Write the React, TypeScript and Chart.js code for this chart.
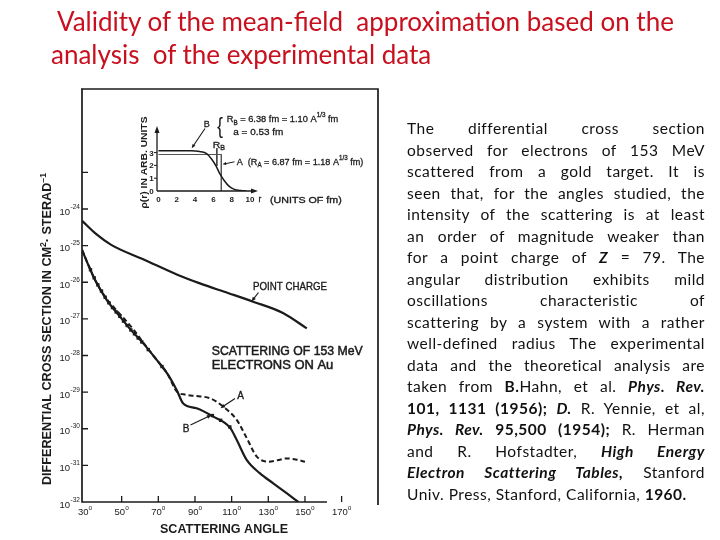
import React, { useEffect, useRef } from "react";
import { Chart, registerables } from "chart.js";

Chart.register(...registerables);

// ---------- Main chart data: scattering angle (deg) vs dσ/dΩ (cm²/sr) ----------
const pointChargeAngles = [28.4, 36, 44.3, 62.6, 80.7, 92.7, 108, 121.7, 138, 151];
const pointChargeValues = [4.79e-25, 2.09e-25, 1.05e-25, 4.07e-26, 1.58e-26, 9.3e-27, 5.1e-27, 2.95e-27, 1.45e-27, 5.5e-28];

const curveBAngles = [28.4, 32, 35.5, 41.8, 49.1, 55, 61.8, 69.1, 75, 80, 83.6, 90.9, 100, 109.1, 112.8, 118.2, 125.5, 132.7, 140, 146.4];
const curveBValues = [7.59e-26, 2.82e-26, 1.15e-26, 3.31e-27, 1.15e-27, 5.01e-28, 2.14e-28, 7.59e-29, 3.16e-29, 1.15e-29, 4.9e-30, 3.63e-30, 2.14e-30, 1.07e-30, 4.9e-31, 1.41e-31, 6.03e-32, 3.24e-32, 1.74e-32, 1.0e-32];

const curveAAngles = [28.4, 32, 35.5, 41.8, 46, 52, 57, 61.8, 69.1, 75, 80, 85, 90.9, 98.2, 105.5, 112.8, 118.2, 123.7, 130, 135, 140, 145, 150];
const curveAValues = [7.59e-26, 2.82e-26, 1.15e-26, 3.47e-27, 2.0e-27, 9.3e-28, 4.7e-28, 2.24e-28, 7.59e-29, 3.16e-29, 1.05e-29, 8.5e-30, 7.8e-30, 6.8e-30, 4.0e-30, 1.74e-30, 5.6e-31, 1.74e-31, 1.26e-31, 1.38e-31, 1.55e-31, 1.45e-31, 1.26e-31];

const expAngles = [33, 35, 37, 39, 41, 43, 45, 47, 49, 51, 53, 55, 57, 59, 61, 64.5, 72, 99.5, 104, 109];
const expValues = [2.19e-26, 1.32e-26, 8.5e-27, 5.75e-27, 3.89e-27, 2.75e-27, 2.04e-27, 1.55e-27, 1.17e-27, 8.7e-28, 6.6e-28, 5.0e-28, 3.9e-28, 3.0e-28, 2.34e-28, 1.45e-28, 5.0e-29, 2.29e-30, 1.7e-30, 1.12e-30];

const xTickAngles = [30, 50, 70, 90, 110, 130, 150, 170];
const yTickValues = [1e-24, 1e-25, 1e-26, 1e-27, 1e-28, 1e-29, 1e-30, 1e-31, 1e-32];
const yTickExponents = ["-24", "-25", "-26", "-27", "-28", "-29", "-30", "-31", "-32"];
const yExtraTickValues = [1e-23];

// ---------- Inset data: charge density ρ(r) vs r (fm) ----------
const densityBRadii = [0, 1, 2, 3, 3.6, 4.5, 5.3, 5.8, 6.3, 6.7, 7.2, 7.7, 8.3, 9, 9.6];
const densityBValues = [3.15, 3.15, 3.15, 3.15, 3.15, 3.08, 2.9, 2.5, 1.95, 1.35, 0.8, 0.38, 0.13, 0.03, 0];
const densityARadii = [0, 6.87, 6.87];
const densityAValues = [2.85, 2.85, 0];
const radiusBMarkRadii = [6.38, 6.38];
const radiusBMarkValues = [3.35, 1.95];
const insetXTicks = [0, 2, 4, 6, 8, 10];
const insetYTicks = [0, 1, 2, 3];

const FONT = "'Liberation Sans', Arial, sans-serif";
const INK = "#1b1b1b";

type Seg = { t: string; k?: "sup" | "sub" };

function drawRich(
  ctx: CanvasRenderingContext2D,
  segs: Seg[],
  x: number,
  baseline: number,
  size: number,
  weight = "normal",
  width?: number,
  align: "left" | "center" | "right" = "left",
  stroke = 0
) {
  const fonts = segs.map((s) => `${weight} ${s.k ? size * 0.68 : size}px ${FONT}`);
  let total = 0;
  const ws = segs.map((s, i) => {
    ctx.font = fonts[i];
    const w = ctx.measureText(s.t).width;
    total += w;
    return w;
  });
  const sc = width ? width / total : 1;
  const realW = total * sc;
  let x0 = x;
  if (align === "center") x0 = x - realW / 2;
  if (align === "right") x0 = x - realW;
  ctx.save();
  ctx.translate(x0, baseline);
  ctx.scale(sc, 1);
  ctx.textAlign = "left";
  ctx.textBaseline = "alphabetic";
  ctx.lineWidth = stroke;
  let cx = 0;
  segs.forEach((s, i) => {
    ctx.font = fonts[i];
    const dy = s.k === "sup" ? -size * 0.45 : s.k === "sub" ? size * 0.28 : 0;
    ctx.fillText(s.t, cx, dy);
    if (stroke > 0) ctx.strokeText(s.t, cx, dy);
    cx += ws[i];
  });
  ctx.restore();
}

function arrow(ctx: CanvasRenderingContext2D, x1: number, y1: number, x2: number, y2: number, head = 5, lw = 1.2) {
  const ang = Math.atan2(y2 - y1, x2 - x1);
  ctx.save();
  ctx.lineWidth = lw;
  ctx.beginPath();
  ctx.moveTo(x1, y1);
  ctx.lineTo(x2 - Math.cos(ang) * head * 0.6, y2 - Math.sin(ang) * head * 0.6);
  ctx.stroke();
  ctx.beginPath();
  ctx.moveTo(x2, y2);
  ctx.lineTo(x2 - head * Math.cos(ang - 0.4), y2 - head * Math.sin(ang - 0.4));
  ctx.lineTo(x2 - head * Math.cos(ang + 0.4), y2 - head * Math.sin(ang + 0.4));
  ctx.closePath();
  ctx.fill();
  ctx.restore();
}

const mainDecor = {
  id: "mainDecor",
  afterDraw(chart: any) {
    const { ctx, chartArea: a, scales } = chart;
    const x = scales.x;
    const y = scales.y;
    ctx.save();
    ctx.strokeStyle = INK;
    ctx.fillStyle = INK;
    ctx.lineWidth = 1.7;
    ctx.beginPath();
    ctx.moveTo(a.left - 1, a.top);
    ctx.lineTo(a.right, a.top);
    ctx.lineTo(a.right, a.bottom + 3);
    ctx.moveTo(a.left, a.top);
    ctx.lineTo(a.left, a.bottom);
    ctx.lineTo(x.getPixelForValue(162), a.bottom);
    ctx.stroke();

    // y tick marks (inside)
    ctx.lineWidth = 1.3;
    ctx.beginPath();
    [...yTickValues, ...yExtraTickValues].forEach((v) => {
      const py = y.getPixelForValue(v);
      if (py > a.bottom - 1) return;
      ctx.moveTo(a.left, py);
      ctx.lineTo(a.left + 6, py);
    });
    // x tick marks (inside, pointing up)
    xTickAngles.forEach((t) => {
      const px = x.getPixelForValue(t);
      if (px < a.left + 4) return;
      ctx.moveTo(px, a.bottom);
      ctx.lineTo(px, a.bottom - 6);
    });
    ctx.stroke();

    // y tick labels 10^n
    yTickValues.forEach((v, i) => {
      const py = y.getPixelForValue(v);
      ctx.font = `normal 9.5px ${FONT}`;
      ctx.textAlign = "right";
      ctx.textBaseline = "alphabetic";
      ctx.fillText("10", 70, py + 5.5);
      ctx.font = `normal 6.5px ${FONT}`;
      ctx.textAlign = "left";
      ctx.fillText(yTickExponents[i], 70.5, py - 0.5);
    });

    // x tick labels
    xTickAngles.forEach((t) => {
      const px = x.getPixelForValue(t);
      drawRich(ctx, [{ t: String(t) }, { t: "o", k: "sup" }], px, 514.5, 9.5, "normal", undefined, "center");
    });

    // axis titles
    drawRich(ctx, [{ t: "SCATTERING ANGLE" }], 160, 532.8, 12.5, "bold", 128);
    ctx.save();
    ctx.translate(46.7, 329);
    ctx.rotate(-Math.PI / 2);
    drawRich(
      ctx,
      [{ t: "DIFFERENTIAL CROSS SECTION IN CM" }, { t: "2", k: "sup" }, { t: "· STERAD" }, { t: "−1", k: "sup" }],
      0,
      4.4,
      12,
      "bold",
      312,
      "center"
    );
    ctx.restore();

    // annotations
    drawRich(ctx, [{ t: "POINT CHARGE" }], 253, 290.3, 10.5, "normal", 74, "left", 0.35);
    arrow(ctx, 258.5, 292.5, 251.5, 301.5, 5);
    drawRich(ctx, [{ t: "SCATTERING OF 153 MeV" }], 211.7, 355.2, 12.5, "normal", 151, "left", 0.5);
    drawRich(ctx, [{ t: "ELECTRONS ON Au" }], 211.7, 368.8, 12.5, "normal", 121.6, "left", 0.5);
    drawRich(ctx, [{ t: "A" }], 240.7, 398.6, 10, "normal", undefined, "center", 0.35);
    arrow(ctx, 235, 398.5, 220.5, 408.3, 5);
    drawRich(ctx, [{ t: "B" }], 186, 431.9, 10, "normal", undefined, "center", 0.35);
    arrow(ctx, 190.5, 425, 211.5, 415, 5);
    ctx.restore();
  },
};

const insetDecor = {
  id: "insetDecor",
  afterDraw(chart: any) {
    const { ctx, chartArea: a, scales } = chart;
    const x = scales.x;
    const y = scales.y;
    ctx.save();
    ctx.strokeStyle = INK;
    ctx.fillStyle = INK;
    ctx.lineWidth = 1.3;
    ctx.beginPath();
    ctx.moveTo(a.left, a.bottom);
    ctx.lineTo(a.left, a.top + 3);
    ctx.moveTo(a.left, a.bottom);
    ctx.lineTo(a.right - 3, a.bottom);
    ctx.stroke();
    // arrowheads
    ctx.beginPath();
    ctx.moveTo(a.left, a.top - 2);
    ctx.lineTo(a.left - 2.5, a.top + 5);
    ctx.lineTo(a.left + 2.5, a.top + 5);
    ctx.closePath();
    ctx.fill();
    ctx.beginPath();
    ctx.moveTo(a.right + 2, a.bottom);
    ctx.lineTo(a.right - 5, a.bottom - 2.5);
    ctx.lineTo(a.right - 5, a.bottom + 2.5);
    ctx.closePath();
    ctx.fill();

    // y ticks and labels
    ctx.lineWidth = 1;
    ctx.beginPath();
    insetYTicks.forEach((v) => {
      const py = y.getPixelForValue(v);
      if (v > 0) {
        ctx.moveTo(a.left - 3, py);
        ctx.lineTo(a.left, py);
      }
    });
    ctx.stroke();
    insetYTicks.forEach((v) => {
      const py = y.getPixelForValue(v);
      drawRich(ctx, [{ t: String(v) }], 151.5, py + 3, 8, "bold", undefined, "center");
    });
    insetXTicks.forEach((v) => {
      const px = x.getPixelForValue(v);
      drawRich(ctx, [{ t: String(v) }], px, 202.4, 8, "bold", undefined, "center");
    });
    drawRich(ctx, [{ t: "r" }], 260, 202.4, 8.5, "normal", undefined, "center", 0.3);
    drawRich(ctx, [{ t: "(UNITS OF fm)" }], 270, 202.6, 9.5, "normal", 71.7, "left", 0.35);

    // rotated y-title
    ctx.save();
    ctx.translate(143.3, 162.5);
    ctx.rotate(-Math.PI / 2);
    drawRich(ctx, [{ t: "ρ(r) IN ARB. UNITS" }], 0, 3.3, 9, "bold", 92, "center");
    ctx.restore();

    // labels
    drawRich(ctx, [{ t: "B" }], 206.7, 126.5, 9, "normal", undefined, "center", 0.3);
    arrow(ctx, 205, 128.5, 191.7, 148.3, 4.5, 1.1);
    drawRich(ctx, [{ t: "{" }], 220, 133, 22, "normal", 6, "center");
    drawRich(
      ctx,
      [{ t: "R" }, { t: "B", k: "sub" }, { t: " = 6.38 fm = 1.10 A" }, { t: "1/3", k: "sup" }, { t: " fm" }],
      226.7,
      121.8,
      9.8,
      "normal",
      111.6,
      "left",
      0.3
    );
    drawRich(ctx, [{ t: "a = 0.53 fm" }], 233.3, 135.2, 9.8, "normal", 50, "left", 0.3);
    drawRich(ctx, [{ t: "R" }, { t: "B", k: "sub" }], 218.8, 147.5, 9.5, "normal", 12.3, "center", 0.3);
    drawRich(
      ctx,
      [{ t: "A  (R" }, { t: "A", k: "sub" }, { t: " = 6.87 fm = 1.18 A" }, { t: "1/3", k: "sup" }, { t: " fm)" }],
      236.7,
      164.5,
      9.8,
      "normal",
      126.6,
      "left",
      0.3
    );
    arrow(ctx, 234.5, 161.8, 222.5, 164.3, 4, 1);
    ctx.restore();
  },
};

const pts = (xs: number[], ys: number[]) => xs.map((v, i) => ({ x: v, y: ys[i] }));

const paraStyle: React.CSSProperties = {
  position: "absolute",
  left: 407,
  width: 298,
  height: 21.5,
  lineHeight: "21.5px",
  fontFamily: "Lato, 'Open Sans', sans-serif",
  fontSize: 15.5,
  letterSpacing: "0.5px",
  color: "#111",
  whiteSpace: "nowrap",
  textAlign: "justify",
};

const BI = ({ children }: { children: React.ReactNode }) => (
  <b>
    <i>{children}</i>
  </b>
);

const paragraphLines: React.ReactNode[] = [
  <>The differential cross section</>,
  <>observed for electrons of 153 MeV</>,
  <>scattered from a gold target. It is</>,
  <>seen that, for the angles studied, the</>,
  <>intensity of the scattering is at least</>,
  <>an order of magnitude weaker than</>,
  <>
    for a point charge of <BI>Z</BI> = 79. The
  </>,
  <>angular distribution exhibits mild</>,
  <>oscillations characteristic of</>,
  <>scattering by a system with a rather</>,
  <>well-defined radius The experimental</>,
  <>data and the theoretical analysis are</>,
  <>
    taken from <b>B.</b>Hahn, et al. <BI>Phys. Rev.</BI>
  </>,
  <>
    <b>101, 1131 (1956);</b> <BI>D.</BI> R. Yennie, et al,
  </>,
  <>
    <BI>Phys. Rev.</BI> <b>95,500 (1954);</b> R. Herman
  </>,
  <>
    and R. Hofstadter, <BI>High Energy</BI>
  </>,
  <>
    <BI>Electron Scattering Tables,</BI> Stanford
  </>,
  <>
    Univ. Press, Stanford, California, <b>1960.</b>
  </>,
];

export default function App() {
  const mainRef = useRef<HTMLCanvasElement>(null);
  const insetRef = useRef<HTMLCanvasElement>(null);

  useEffect(() => {
    const main = new Chart(mainRef.current as HTMLCanvasElement, {
      type: "line",
      data: {
        datasets: [
          {
            label: "Point charge",
            data: pts(pointChargeAngles, pointChargeValues),
            borderColor: INK,
            borderWidth: 2.2,
            pointRadius: 0,
            cubicInterpolationMode: "monotone",
          },
          {
            label: "A",
            data: pts(curveAAngles, curveAValues),
            borderColor: INK,
            borderWidth: 2,
            borderDash: [5, 3],
            pointRadius: 0,
            cubicInterpolationMode: "monotone",
          },
          {
            label: "B",
            data: pts(curveBAngles, curveBValues),
            borderColor: INK,
            borderWidth: 2.2,
            pointRadius: 0,
            cubicInterpolationMode: "monotone",
          },
          {
            label: "Experiment",
            data: pts(expAngles, expValues),
            showLine: false,
            pointStyle: "rect",
            pointRadius: 2.4,
            pointBackgroundColor: INK,
            pointBorderColor: INK,
            pointBorderWidth: 0,
          },
        ],
      },
      options: {
        animation: false,
        responsive: false,
        maintainAspectRatio: false,
        events: [],
        layout: { padding: { left: 82, top: 89, right: 342, bottom: 38 } },
        plugins: { legend: { display: false }, tooltip: { enabled: false }, title: { display: false } },
        scales: {
          x: { type: "linear", min: 28.36, max: 189.85, display: false },
          y: { type: "logarithmic", min: 1e-32, max: 1.89e-21, display: false },
        },
      },
      plugins: [mainDecor],
    } as any);

    const inset = new Chart(insetRef.current as HTMLCanvasElement, {
      type: "line",
      data: {
        datasets: [
          {
            label: "B",
            data: pts(densityBRadii, densityBValues),
            borderColor: INK,
            borderWidth: 1.5,
            pointRadius: 0,
            cubicInterpolationMode: "monotone",
          },
          {
            label: "A",
            data: pts(densityARadii, densityAValues),
            borderColor: "#555",
            borderWidth: 1,
            pointRadius: 0,
            tension: 0,
          },
          {
            label: "RB",
            data: pts(radiusBMarkRadii, radiusBMarkValues),
            borderColor: "#444",
            borderWidth: 1,
            pointRadius: 0,
            tension: 0,
          },
        ],
      },
      options: {
        animation: false,
        responsive: false,
        maintainAspectRatio: false,
        events: [],
        layout: { padding: { left: 157, top: 128, right: 464, bottom: 349 } },
        plugins: { legend: { display: false }, tooltip: { enabled: false }, title: { display: false } },
        scales: {
          x: { type: "linear", min: -0.16, max: 10.66, display: false },
          y: { type: "linear", min: 0, max: 4.92, display: false },
        },
      },
      plugins: [insetDecor],
    } as any);

    return () => {
      main.destroy();
      inset.destroy();
    };
  }, []);

  const titleStyle: React.CSSProperties = {
    position: "absolute",
    fontFamily: "Lato, 'Open Sans', sans-serif",
    fontSize: 26,
    lineHeight: "31.2px",
    color: "#c8101e",
    whiteSpace: "pre",
  };

  return (
    <div
      style={{
        position: "absolute",
        left: 0,
        top: 0,
        width: 720,
        height: 540,
        background: "#fff",
        overflow: "hidden",
      }}
    >
      <canvas ref={mainRef} width={720} height={540} style={{ position: "absolute", left: 0, top: 0 }} />
      <canvas ref={insetRef} width={720} height={540} style={{ position: "absolute", left: 0, top: 0 }} />
      <div style={{ ...titleStyle, left: 57, top: 6.3 }}>Validity of the mean-field  approximation based on the</div>
      <div style={{ ...titleStyle, left: 51, top: 39.3 }}>analysis  of the experimental data</div>
      {paragraphLines.map((line, i) => (
        <div
          key={i}
          style={{
            ...paraStyle,
            top: 118 + 21.5 * i,
            textAlignLast: i < paragraphLines.length - 1 ? "justify" : "left",
          }}
        >
          {line}
        </div>
      ))}
    </div>
  );
}
